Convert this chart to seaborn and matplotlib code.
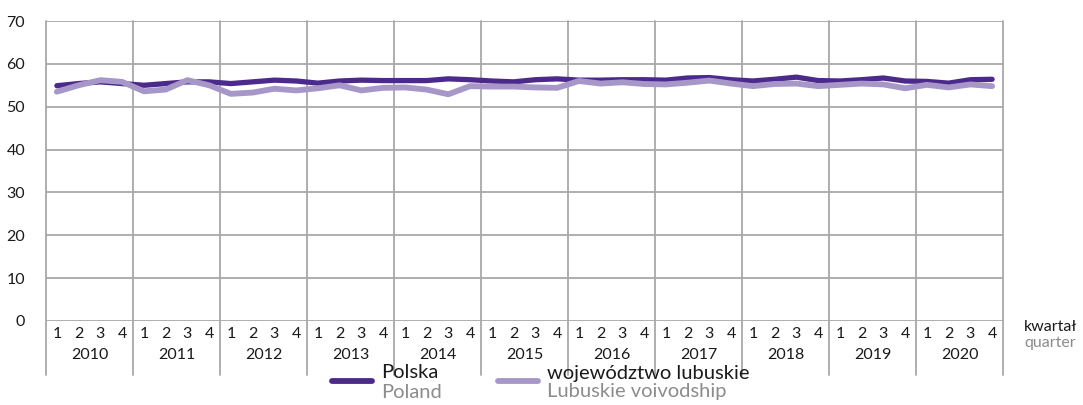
import numpy as np
import pandas as pd
import matplotlib
matplotlib.use("Agg")
import matplotlib.pyplot as plt
from matplotlib.lines import Line2D
from matplotlib.transforms import blended_transform_factory
import seaborn as sns

years = [str(y) for y in range(2010, 2021)]
quarters = ["1", "2", "3", "4"]

polska = [54.9, 55.4, 55.8, 55.4,
          55.0, 55.4, 55.8, 55.8,
          55.4, 55.8, 56.2, 56.0,
          55.5, 56.0, 56.2, 56.1,
          56.1, 56.1, 56.5, 56.3,
          56.0, 55.8, 56.3, 56.5,
          56.2, 56.2, 56.3, 56.3,
          56.2, 56.7, 56.8, 56.3,
          56.0, 56.4, 56.9, 56.1,
          56.0, 56.3, 56.7, 56.0,
          55.9, 55.5, 56.3, 56.4]

lubuskie = [53.5, 55.0, 56.2, 55.8,
            53.6, 54.0, 56.2, 55.0,
            53.0, 53.3, 54.2, 53.8,
            54.3, 55.0, 53.8, 54.4,
            54.5, 54.0, 52.9, 54.8,
            54.7, 54.7, 54.5, 54.4,
            56.0, 55.4, 55.7, 55.3,
            55.2, 55.6, 56.1, 55.4,
            54.8, 55.3, 55.4, 54.8,
            55.1, 55.4, 55.2, 54.3,
            55.1, 54.5, 55.2, 54.8]

series_pl = ["Polska", "województwo lubuskie"]
series_en = ["Poland", "Lubuskie voivodship"]
y_ticks = [0, 10, 20, 30, 40, 50, 60, 70]

sns.set_theme(style="white")
plt.rcParams["font.family"] = ["Lato", "DejaVu Sans"]

dark = "#4B2A8C"
light = "#A797C9"
grid_c = "#A8A8A8"
text_c = "#1A1A1A"
sub_c = "#8C8C8C"
fs = 11.5
legend_fs = 14.5

n = len(polska)
pos = np.arange(n)
df = pd.DataFrame({
    "pos": np.concatenate([pos, pos]),
    "value": polska + lubuskie,
    "series": [series_pl[0]] * n + [series_pl[1]] * n,
})

fig = plt.figure(figsize=(10.83, 4.05), dpi=100)
ax = fig.add_axes([46 / 1083, 1 - 321 / 405, 957 / 1083, 300 / 405])

# horizontal gridlines
for t in y_ticks:
    ax.axhline(t, color=grid_c, lw=1.3, zorder=0)

# year separators, extended below the axis
trans = blended_transform_factory(ax.transData, ax.transAxes)
for k in range(len(years) + 1):
    xv = k * 4 - 0.5
    ax.add_line(Line2D([xv, xv], [1, -0.18], transform=trans, color=grid_c,
                       lw=1.3, clip_on=False, zorder=0))

sns.lineplot(data=df, x="pos", y="value", hue="series",
             palette={series_pl[0]: dark, series_pl[1]: light},
             hue_order=series_pl, linewidth=4.2, legend=False, ax=ax,
             solid_capstyle="round", solid_joinstyle="round")
for ln in ax.get_lines():
    if ln.get_color() == dark:
        ln.set_linewidth(3.8)

ax.set_xlim(-0.5, n - 0.5)
ax.set_ylim(0, 70)
ax.set_yticks(y_ticks)
ax.set_yticklabels([str(t) for t in y_ticks], fontsize=fs, color=text_c)
ax.tick_params(axis="y", length=0, pad=15)
ax.set_xticks([])
ax.set_xlabel("")
ax.set_ylabel("")
for s in ax.spines.values():
    s.set_visible(False)

# quarter and year labels
for k, yr in enumerate(years):
    for q, ql in enumerate(quarters):
        ax.text(k * 4 + q, -0.02, ql, transform=trans, ha="center", va="top",
                fontsize=fs, color=text_c)
    ax.text(k * 4 + 1.5, -0.09, yr, transform=trans, ha="center", va="top",
            fontsize=fs, color=text_c)

fig.text(1024 / 1083, 1 - 327 / 405, "kwartał", ha="left", va="center",
         fontsize=fs, color=text_c)
fig.text(1024 / 1083, 1 - 343 / 405, "quarter", ha="left", va="center",
         fontsize=fs, color=sub_c)

# legend
legend_items = [(332, dark, 0), (498, light, 1)]
for x0, col, i in legend_items:
    fig.add_artist(Line2D([x0 / 1083, (x0 + 40) / 1083], [1 - 381 / 405] * 2,
                          color=col, lw=4.2, solid_capstyle="round"))
    fig.text((x0 + 49) / 1083, 1 - 373 / 405, series_pl[i], ha="left",
             va="center", fontsize=legend_fs, color=text_c)
    fig.text((x0 + 49) / 1083, 1 - 392 / 405, series_en[i], ha="left",
             va="center", fontsize=legend_fs, color=sub_c)

fig.savefig("out.png", dpi=100, facecolor="white")
